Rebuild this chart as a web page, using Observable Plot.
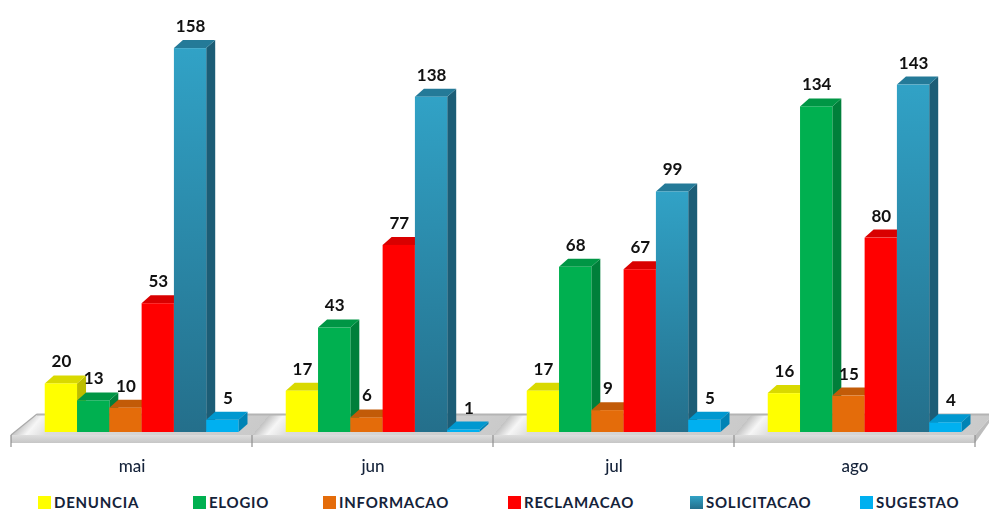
<!DOCTYPE html>
<html><head><meta charset="utf-8">
<script src="https://cdn.jsdelivr.net/npm/d3@7"></script>
<script src="https://cdn.jsdelivr.net/npm/@observablehq/plot@0.6"></script>
<style>
html,body{margin:0;padding:0;background:#fff;width:989px;height:511px;overflow:hidden}
#chart{position:absolute;left:0;top:0;filter:blur(.45px)}
#legend{position:absolute;left:0;top:494px;width:989px;height:16px;font:700 15px/16px Lato,sans-serif;color:#15233a}
#legend div{position:absolute;top:0;height:16px;display:flex;align-items:center;white-space:nowrap;letter-spacing:.75px}
#legend i{display:block;width:13px;height:13px;margin-right:3px}
</style></head><body>
<div id="chart"></div><div id="legend"></div>
<script>
const months = ["mai","jun","jul","ago"];
const series = ["DENUNCIA","ELOGIO","INFORMACAO","RECLAMACAO","SOLICITACAO","SUGESTAO"];
const denuncia = [20,17,17,16];
const elogio = [13,43,68,134];
const informacao = [10,6,9,15];
const reclamacao = [53,77,67,80];
const solicitacao = [158,138,99,143];
const sugestao = [5,1,5,4];
const frontColors = ["#ffff00","#00b050","#e46c0a","#ff0000","url(#solGrad)","#00b0f0"];
const sideColors = ["#bdbd00","#007f3a","#a84f07","#c00000","#1c5d76","#0083b5"];
const topColors = ["#d9d900","#009645","#c25b08","#d90000","#247a98","#0098d0"];
const legendX = [38,193,323,508,690,860];

const values = [denuncia,elogio,informacao,reclamacao,solicitacao,sugestao];
const rows = months.flatMap((month,m)=>series.map((s,i)=>({m,i,s,month,value:values[i][m]})));
const start = -0.36, step = 0.134, dxD = 9, dyD = 8;

function svgEl(html){
  const g=document.createElementNS("http://www.w3.org/2000/svg","g");
  g.innerHTML=html; return g;
}
const defs = ()=>svgEl(`<defs>
<linearGradient id="solGrad" x1="0" y1="0" x2="0" y2="1"><stop offset="0" stop-color="#31a2c6"/><stop offset="1" stop-color="#246f8b"/></linearGradient>
<linearGradient id="bandGrad" x1="0" y1="0" x2="0" y2="1"><stop offset="0" stop-color="#dedede"/><stop offset="1" stop-color="#c6c6c6"/></linearGradient>
<linearGradient id="floorGrad" gradientUnits="userSpaceOnUse" x1="14" y1="0" x2="255" y2="0" spreadMethod="repeat" gradientTransform="translate(0,432) skewX(-40) translate(0,-432)"><stop offset="0" stop-color="#c2c2c2"/><stop offset=".06" stop-color="#f6f6f6"/><stop offset=".14" stop-color="#dcdcdc"/><stop offset="1" stop-color="#cacaca"/></linearGradient>
</defs>`);

const floor = (index,{x,y})=>{
  const y0=y(0), L=x(-0.5), R=x(3.5);
  const back=y0-18, fTop=y0+3, fBot=y0+11;
  let h=`<polygon points="${L},${fTop} ${L+26},${back} ${R+14},${back} ${R+14},${back+5} ${R},${fTop}" fill="url(#floorGrad)"/>`;
  h+=`<line x1="${L+26}" x2="${R+14}" y1="${back+.5}" y2="${back+.5}" stroke="#b4b4b4" stroke-width="2"/>`;
  h+=`<polygon points="${L},${fTop} ${R},${fTop} ${R},${fBot} ${L},${fBot}" fill="url(#bandGrad)"/>`;
  h+=`<polygon points="${R},${fTop} ${R+14},${back+5} ${R+14},${back+9} ${R},${fBot}" fill="#bcbcbc"/>`;
  h+=`<polyline points="${L},${fTop} ${L+26},${back}" fill="none" stroke="#aaa" stroke-width="1.2"/>`;
  for(let k=0;k<=4;k++){const t=x(k-0.5);h+=`<line x1="${t}" x2="${t}" y1="${fTop}" y2="${fBot+4}" stroke="#8f8f8f" stroke-width="1.2"/>`;}
  return svgEl(h);
};

const labelStyle = {
  x:d=>d.m+start+(d.i+0.5)*step,y:"value",text:"value",dy:-22,
  fontFamily:"Lato,sans-serif",fontWeight:700,fontSize:17,fill:"#111"
};

const plot = Plot.plot({
  width:989,height:487,marginTop:0,marginBottom:55,marginLeft:0,marginRight:0,
  style:{background:"transparent",overflow:"visible"},
  x:{domain:[-0.5,3.5],range:[11,975]},
  y:{domain:[0,177.8],axis:null},
  color:{domain:series,range:frontColors},
  marks:[
    defs,
    floor,
    Plot.rect(rows,{
      x1:d=>d.m+start+d.i*step,
      x2:d=>d.m+start+(d.i+1)*step,
      y1:0,y2:"value",fill:"s",
      render(index,scales,vals,dims,ctx,next){
        const g=next(index,scales,vals,dims,ctx);
        const rects=[...g.querySelectorAll("rect")];
        rects.forEach((r,k)=>{
          const d=rows[index[k]];
          const a=+r.getAttribute("x"),w=+r.getAttribute("width"),t=+r.getAttribute("y"),h=+r.getAttribute("height");
          const b=t+h;
          const side=svgEl(`<polygon points="${a+w},${t} ${a+w+dxD},${t-dyD} ${a+w+dxD},${b-dyD} ${a+w},${b}" fill="${sideColors[d.i]}"/><polygon points="${a},${t} ${a+dxD},${t-dyD} ${a+w+dxD},${t-dyD} ${a+w},${t}" fill="${topColors[d.i]}"/>`);
          r.parentNode.insertBefore(side,r);
        });
        return g;
      }
    }),
    Plot.text(rows.filter(d=>d.i!==5),{...labelStyle,dx:0}),
    Plot.text(rows.filter(d=>d.i===5),{...labelStyle,dx:5}),
    Plot.axisX({ticks:[0,1,2,3],tickFormat:i=>months[i],tickSize:0,tickPadding:27,label:null,
      fontFamily:"Lato,sans-serif",fontSize:17,fontWeight:500,fill:"#15233a"})
  ]
});
document.getElementById("chart").append(plot);

const leg=document.getElementById("legend");
series.forEach((s,i)=>{
  const e=document.createElement("div");
  e.style.left=legendX[i]+"px";
  const sw=document.createElement("i");
  sw.style.background=i===4?"linear-gradient(#31a2c6,#246f8b)":frontColors[i];
  e.append(sw,s);leg.append(e);
});
</script></body></html>
